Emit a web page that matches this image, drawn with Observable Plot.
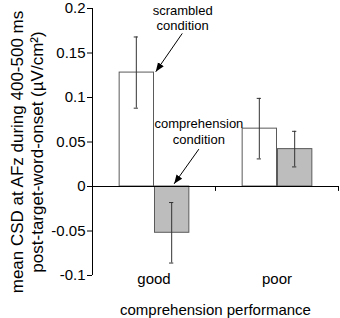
<!DOCTYPE html>
<html><head><meta charset="utf-8">
<script src="https://cdn.jsdelivr.net/npm/d3@7"></script>
<script src="https://cdn.jsdelivr.net/npm/@observablehq/plot@0.6"></script>
<style>body{margin:0;background:#fff} svg{display:block}</style>
</head><body><div id="chart"></div>
<script>
const groups = ["good", "poor"];
const conditions = ["scrambled", "comprehension"];
const scrambledMean = [0.128, 0.065];
const scrambledErr = [0.040, 0.034];
const comprehensionMean = [-0.052, 0.042];
const comprehensionErr = [0.034, 0.020];
const yTicks = [-0.1, -0.05, 0, 0.05, 0.1, 0.15, 0.2];
const yTitle = ["mean CSD at AFz during 400-500 ms", "post-target-word-onset (µV/cm²)"];
const xTitle = "comprehension performance";
// annotation labels and arrows, in data units (facet, slot axis, y value)
const annotations = [
  {group: "good", text: "scrambled\ncondition", tx: 1.81, ty: 0.190, x1: 1.80, y1: 0.172, x2: 1.05, y2: 0.129},
  {group: "good", text: "comprehension\ncondition", tx: 2.27, ty: 0.0625, x1: 2.27, y1: 0.042, x2: 1.57, y2: 0.003}
];

const means = {scrambled: scrambledMean, comprehension: comprehensionMean};
const errs = {scrambled: scrambledErr, comprehension: comprehensionErr};
const rows = groups.flatMap((g, i) => conditions.map((c) => ({
  group: g, condition: c, slot: conditions.indexOf(c), mean: means[c][i], err: errs[c][i]
})));

const xDomain = [-0.74, 2.74];
const yDomain = [-0.1, 0.2];
const cap = 0.06;

function filledArrow(color) {
  const m = d3.create("svg:marker")
    .attr("viewBox", "-9 -4 9 8")
    .attr("refX", 0).attr("refY", 0)
    .attr("markerWidth", 9).attr("markerHeight", 8)
    .attr("markerUnits", "userSpaceOnUse")
    .attr("orient", "auto");
  m.append("path").attr("d", "M-9,-3.5L0,0L-9,3.5Z").attr("fill", color).attr("stroke", "none");
  return m.node();
}

const chart = Plot.plot({
  width: 340,
  height: 318,
  marginTop: 8,
  marginBottom: 43,
  marginLeft: 92,
  marginRight: 2,
  style: {fontFamily: "'Liberation Sans', Arial, sans-serif", fontSize: "15px", color: "black", background: "white", overflow: "visible"},
  fx: {domain: groups, padding: 0},
  x: {domain: xDomain, axis: null},
  y: {domain: yDomain},
  marks: [
    Plot.rectY(rows, {fx: "group", x: "slot", interval: 1, y1: 0, y2: "mean",
      fill: (d) => d.condition === "scrambled" ? "white" : "#bdbdbd", stroke: "#5a5a5a", strokeWidth: 1}),
    Plot.ruleX(rows, {fx: "group", x: (d) => d.slot + 0.5, y1: (d) => d.mean - d.err, y2: (d) => d.mean + d.err, stroke: "#333"}),
    Plot.ruleY(rows, {fx: "group", y: (d) => d.mean + d.err, x1: (d) => d.slot + 0.5 - cap, x2: (d) => d.slot + 0.5 + cap, stroke: "#333"}),
    Plot.ruleY(rows, {fx: "group", y: (d) => d.mean - d.err, x1: (d) => d.slot + 0.5 - cap, x2: (d) => d.slot + 0.5 + cap, stroke: "#333"}),
    Plot.ruleY([0], {stroke: "black"}),
    Plot.ruleX([xDomain[1]], {y1: 0, y2: -0.0055, stroke: "black"}),
    Plot.ruleX([{group: "good"}], {fx: "group", x: () => xDomain[0], y1: yDomain[0], y2: yDomain[1], stroke: "black"}),
    Plot.axisY({ticks: yTicks, tickFormat: (d) => String(d), tickSize: 5, tickPadding: 2, label: null, fontSize: 15}),
    Plot.axisFx({anchor: "bottom", tickSize: 0, tickPadding: -2, label: xTitle, labelAnchor: "center", labelOffset: 39, fontSize: 15}),
    Plot.text([{group: "good"}], {fx: "group", frameAnchor: "left", text: () => yTitle.join("\n"), rotate: -90,
      dx: -66, dy: 10, fontSize: 17, lineHeight: 1.2, textAnchor: "middle", lineAnchor: "middle"}),
    Plot.text(annotations, {fx: "group", x: "tx", y: "ty", text: "text", fontSize: 13, lineHeight: 1.2, lineAnchor: "middle"}),
    Plot.link(annotations, {fx: "group", x1: "x1", y1: "y1", x2: "x2", y2: "y2", stroke: "black", markerEnd: filledArrow})
  ]
});
document.getElementById("chart").append(chart);
</script>
</body></html>
